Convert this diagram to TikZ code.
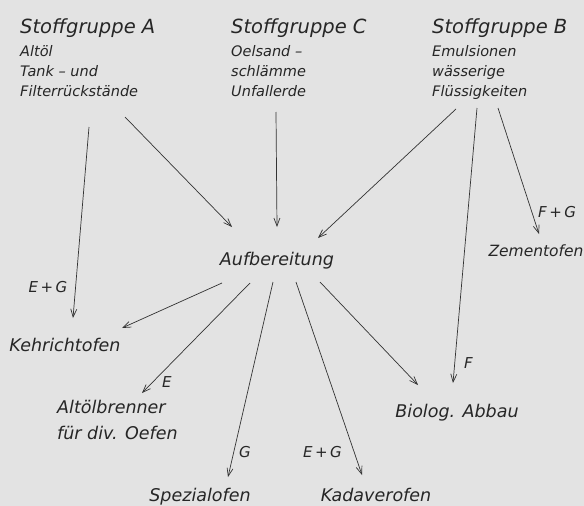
\documentclass[tikz,border=0pt]{standalone}
\usepackage{fontspec}
\setmainfont{DejaVu Sans}
\usetikzlibrary{arrows.meta,backgrounds}

\begin{document}
\begin{tikzpicture}[x=1pt, y=-1pt, every node/.style={inner sep=0pt, text=black!85},
 group/.style={anchor=north west, align=left, font=\itshape\fontsize{14.5}{20}\selectfont},
 ofen/.style={font=\itshape\fontsize{17.5}{26}\selectfont},
 lbl/.style={font=\itshape\fontsize{15}{16}\selectfont},
 arr/.style={-{Straight Barb[length=8pt, width=6pt]}, black!80, line width=0.7pt}]

 \useasboundingbox[fill=black!11] (0,0) rectangle (584,506);

 % Stoffgruppen
 \node[group] (grpA) at (20,18) {{\fontsize{19.5}{24}\selectfont Stoffgruppe A}\\[3pt] Altöl\\ Tank -- und\\ Filterrückstände};
 \node[group] (grpC) at (231,18) {{\fontsize{19.5}{24}\selectfont Stoffgruppe C}\\[3pt] Oelsand --\\ schlämme\\ Unfallerde};
 \node[group] (grpB) at (432,18) {{\fontsize{19.5}{24}\selectfont Stoffgruppe B}\\[3pt] Emulsionen\\ wässerige\\ Flüssigkeiten};

 \node[ofen] (aufb) at (277,261) {Aufbereitung};
 \node[ofen, font=\itshape\fontsize{15.5}{20}\selectfont] (zement) at (536,251) {Zementofen};
 \node[ofen] (kehricht) at (65,345) {Kehrichtofen};
 \node[ofen, anchor=north west, align=left] (brenner) at (57,400) {Altölbrenner\\ für div. Oefen};
 \node[ofen] (biolog) at (457,413) {Biolog. Abbau};
 \node[ofen] (spezial) at (200,497) {Spezialofen};
 \node[ofen] (kadaver) at (376,495) {Kadaverofen};

 % Zufluss
 \draw[arr] ([shift={(69,109)}]grpA.north west) -- ([shift={(8,-27)}]kehricht.center)
   node[lbl, pos=0.84, left=8pt] {E\,+\,G};
 \draw[arr] ([shift={(105,99)}]grpA.north west) -- ([shift={(-45,-34)}]aufb.center);
 \draw[arr] ([shift={(45,94)}]grpC.north west) -- ([shift={(0,-34)}]aufb.center);
 \draw[arr] ([shift={(24,91)}]grpB.north west) -- ([shift={(41,-23)}]aufb.center);
 \draw[arr] ([shift={(45,90)}]grpB.north west) -- ([shift={(-4,-30)}]biolog.center)
   node[lbl, pos=0.927, right=9pt] {F};
 \draw[arr] ([shift={(66,90)}]grpB.north west) -- ([shift={(3,-17)}]zement.center)
   node[lbl, pos=0.825, right=6pt] {F\,+\,G};

 % Abfluss
 \draw[arr] ([shift={(-55,22)}]aufb.center) -- ([shift={(57,-17)}]kehricht.center);
 \draw[arr] ([shift={(-27,22)}]aufb.center) -- ([shift={(85,-7)}]brenner.north west)
   node[lbl, pos=0.9, right=9pt] {E};
 \draw[arr] ([shift={(-4,21)}]aufb.center) -- ([shift={(28,-20)}]spezial.center)
   node[lbl, pos=0.87, right=5pt] {G};
 \draw[arr] ([shift={(19,21)}]aufb.center) -- ([shift={(-14,-20)}]kadaver.center)
   node[lbl, pos=0.88, left=12pt] {E\,+\,G};
 \draw[arr] ([shift={(43,21)}]aufb.center) -- ([shift={(-39,-28)}]biolog.center);
\end{tikzpicture}
\end{document}
